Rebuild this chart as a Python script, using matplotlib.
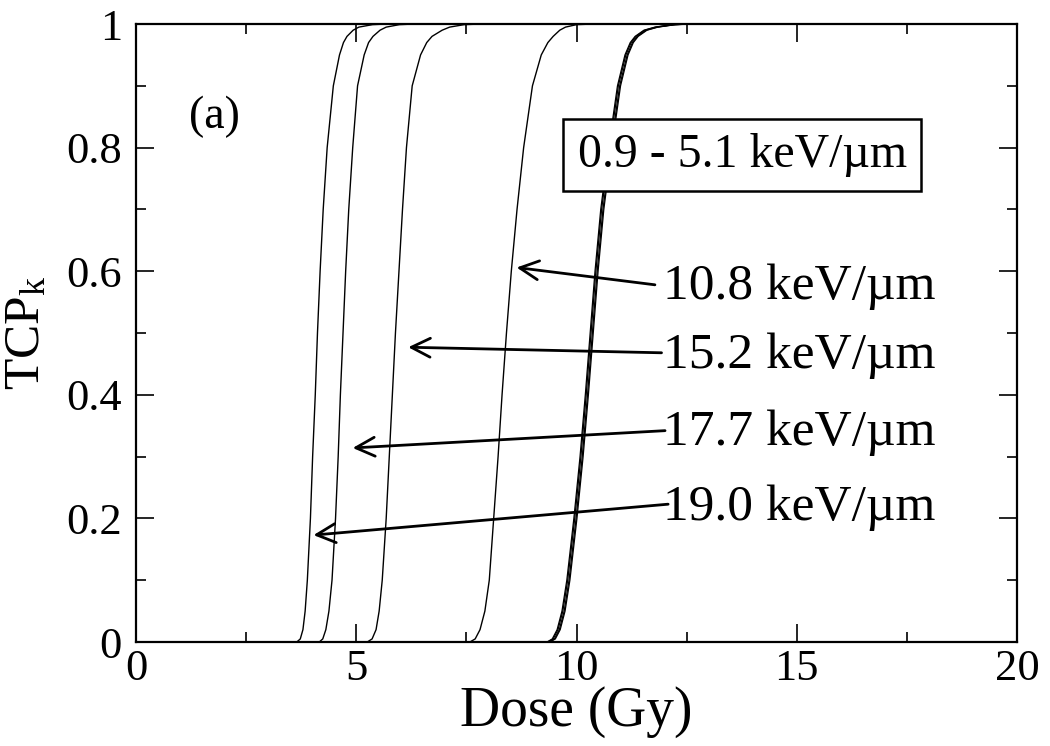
import numpy as np
import matplotlib
matplotlib.use('Agg')
import matplotlib.pyplot as plt
from matplotlib.ticker import MultipleLocator, FormatStrFormatter

plt.rcParams['font.family'] = ['Liberation Serif', 'DejaVu Serif']
plt.rcParams['mathtext.fontset'] = 'custom'
plt.rcParams['mathtext.rm'] = 'Liberation Serif'
plt.rcParams['mathtext.it'] = 'Liberation Serif:italic'

tcp = [0, 0, 0.005, 0.02, 0.05, 0.1, 0.2, 0.3, 0.4, 0.5, 0.6, 0.7, 0.8, 0.9,
       0.95, 0.97, 0.98, 0.99, 0.995, 0.999, 0.9998, 1, 1]

# doses (Gy) for each curve, first point at dose 0 and last at dose 20
dose_19_0 = [0, 3.65, 3.73, 3.79, 3.84, 3.89, 3.96, 4.01, 4.07, 4.12, 4.18, 4.25,
             4.34, 4.48, 4.62, 4.71, 4.79, 4.93, 5.06, 5.37, 5.62, 5.9, 20]
dose_17_7 = [0, 4.16, 4.24, 4.31, 4.38, 4.45, 4.53, 4.59, 4.64, 4.70, 4.76, 4.83,
             4.92, 5.03, 5.18, 5.28, 5.38, 5.54, 5.68, 5.98, 6.25, 6.6, 20]
dose_15_2 = [0, 5.25, 5.36, 5.45, 5.52, 5.59, 5.68, 5.75, 5.82, 5.89, 5.97, 6.05,
             6.14, 6.27, 6.46, 6.60, 6.72, 6.95, 7.12, 7.45, 7.75, 8.1, 20]
dose_10_8 = [0, 7.58, 7.70, 7.81, 7.92, 8.02, 8.12, 8.22, 8.31, 8.41, 8.52, 8.65,
             8.80, 9.00, 9.20, 9.35, 9.47, 9.62, 9.75, 10.0, 10.3, 10.7, 20]
# low-LET bundle (0.9 - 5.1 keV/um), curves nearly on top of each other
dose_low_a = [0, 9.33, 9.45, 9.56, 9.67, 9.78, 9.94, 10.08, 10.20, 10.31, 10.42, 10.55,
              10.73, 10.93, 11.10, 11.22, 11.33, 11.53, 11.78, 12.18, 12.5, 12.9, 20]
dose_low_b = [0, 9.35, 9.47, 9.58, 9.69, 9.80, 9.96, 10.10, 10.22, 10.33, 10.44, 10.57,
              10.75, 10.95, 11.12, 11.24, 11.35, 11.55, 11.80, 12.20, 12.52, 12.9, 20]
dose_low_c = [0, 9.38, 9.50, 9.61, 9.72, 9.83, 9.99, 10.13, 10.25, 10.36, 10.47, 10.60,
              10.78, 10.98, 11.15, 11.27, 11.38, 11.58, 11.83, 12.23, 12.55, 12.95, 20]
dose_low_d = [0, 9.40, 9.52, 9.63, 9.74, 9.85, 10.01, 10.15, 10.27, 10.38, 10.49, 10.62,
              10.80, 11.00, 11.17, 11.29, 11.40, 11.60, 11.85, 12.25, 12.57, 12.95, 20]

labels = ['10.8 keV/\u00b5m', '15.2 keV/\u00b5m', '17.7 keV/\u00b5m', '19.0 keV/\u00b5m']
label_y = [0.575, 0.464, 0.338, 0.218]
arrow_tip_x = [8.64, 6.18, 4.92, 4.03]
arrow_tip_y = [0.606, 0.477, 0.314, 0.173]
arrow_tail_x = [11.78, 11.93, 12.01, 12.08]
arrow_tail_y = [0.578, 0.468, 0.342, 0.223]

fig = plt.figure(figsize=(10.5, 7.46), dpi=100)
ax = fig.add_axes([0.1295, 0.1394, 0.8391, 0.8284])

for d in [dose_19_0, dose_17_7, dose_15_2, dose_10_8]:
    ax.plot(d, tcp, color='black', lw=1.0)
for d in [dose_low_a, dose_low_b, dose_low_c, dose_low_d]:
    ax.plot(d, tcp, color='black', lw=0.9)

for i in range(len(labels)):
    ax.annotate('', xy=(arrow_tip_x[i], arrow_tip_y[i]),
                xytext=(arrow_tail_x[i], arrow_tail_y[i]),
                arrowprops=dict(arrowstyle='->', lw=2.0, color='black',
                                mutation_scale=34, shrinkA=0, shrinkB=0))
    ax.text(11.96, label_y[i], labels[i], fontsize=37, va='center', ha='left')

ax.text(13.76, 0.788, '0.9 - 5.1 keV/\u00b5m', fontsize=34.5, ha='center', va='center',
        bbox=dict(boxstyle='square,pad=0.3', fc='white', ec='black', lw=1.8))
ax.text(1.77, 0.85, '(a)', fontsize=33, ha='center', va='center')

ax.set_xlim(0, 20)
ax.set_ylim(0, 1)
ax.xaxis.set_major_locator(MultipleLocator(5))
ax.xaxis.set_minor_locator(MultipleLocator(2.5))
ax.yaxis.set_major_locator(MultipleLocator(0.2))
ax.yaxis.set_minor_locator(MultipleLocator(0.1))
ax.yaxis.set_major_formatter(FormatStrFormatter('%g'))
ax.tick_params(which='both', direction='in', top=True, right=True, width=1.2)
ax.tick_params(which='major', length=13, labelsize=32)
ax.tick_params(which='minor', length=7)
ax.tick_params(axis='y', pad=10)
ax.tick_params(axis='x', pad=5)
for s in ax.spines.values():
    s.set_linewidth(1.6)

ax.set_xlabel('Dose (Gy)', fontsize=40, labelpad=-2)
ax.set_ylabel(r'TCP$_\mathrm{k}$', fontsize=37, labelpad=12)

fig.savefig('out.png', dpi=100)
